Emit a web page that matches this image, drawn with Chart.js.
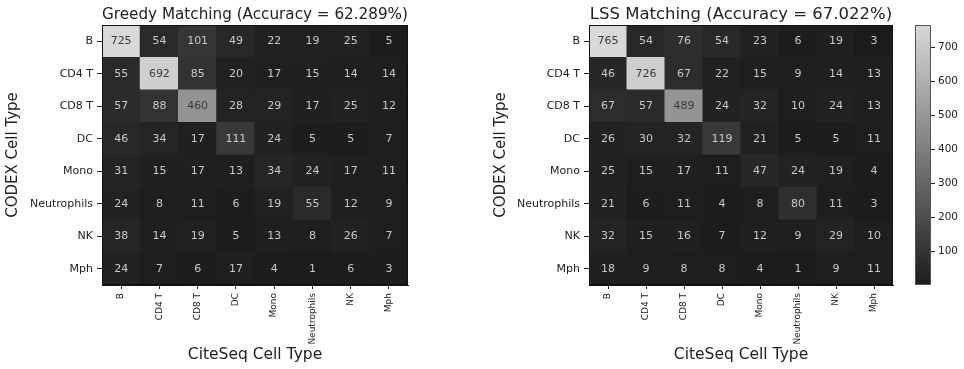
<!DOCTYPE html>
<html>
<head>
<meta charset="utf-8">
<script src="https://cdn.jsdelivr.net/npm/chart.js@4.4.1/dist/chart.umd.min.js"></script>
<style>
  body { margin: 0; background: #fff; }
  #wrap { position: relative; width: 964px; height: 369px; }
  canvas { position: absolute; top: 0; }
</style>
</head>
<body>
<div id="wrap">
  <canvas id="greedyChart" width="480" height="369" style="left:0px"></canvas>
  <canvas id="lssChart" width="420" height="369" style="left:480px"></canvas>
  <canvas id="colorBar" width="64" height="369" style="left:900px"></canvas>
</div>
<script>
// cell types (rows = CODEX, columns = CiteSeq)
const cellTypes = ['B', 'CD4 T', 'CD8 T', 'DC', 'Mono', 'Neutrophils', 'NK', 'Mph'];

const greedyMatrix = [
  [725, 54, 101, 49, 22, 19, 25, 5],
  [55, 692, 85, 20, 17, 15, 14, 14],
  [57, 88, 460, 28, 29, 17, 25, 12],
  [46, 34, 17, 111, 24, 5, 5, 7],
  [31, 15, 17, 13, 34, 24, 17, 11],
  [24, 8, 11, 6, 19, 55, 12, 9],
  [38, 14, 19, 5, 13, 8, 26, 7],
  [24, 7, 6, 17, 4, 1, 6, 3]
];

const lssMatrix = [
  [765, 54, 76, 54, 23, 6, 19, 3],
  [46, 726, 67, 22, 15, 9, 14, 13],
  [67, 57, 489, 24, 32, 10, 24, 13],
  [26, 30, 32, 119, 21, 5, 5, 11],
  [25, 15, 17, 11, 47, 24, 19, 4],
  [21, 6, 11, 4, 8, 80, 11, 3],
  [32, 15, 16, 7, 12, 9, 29, 10],
  [18, 9, 8, 8, 4, 1, 9, 11]
];

const colorBarTicks = [100, 200, 300, 400, 500, 600, 700];

const FONT = 'DejaVu Sans';
Chart.defaults.font.family = FONT;

// gray colormap, a bit washed out like the picture
const GRAY_LO = 28, GRAY_HI = 216;
function cellColor(v, min, max) {
  const t = (v - min) / (max - min);
  const g = Math.round(GRAY_LO + t * (GRAY_HI - GRAY_LO));
  return 'rgb(' + g + ',' + g + ',' + g + ')';
}

function makeHeatmap(id, title, matrix, padLeft, padRight, yWidth) {
  const flat = matrix.flat();
  const vmin = Math.min(...flat), vmax = Math.max(...flat);
  const thresh = (vmin + vmax) / 2;
  const n = cellTypes.length;

  // stacked unit bars, bottom row first
  const datasets = [];
  for (let r = n - 1; r >= 0; r--) {
    datasets.push({
      label: cellTypes[r],
      data: matrix[r].map(() => 1),
      backgroundColor: matrix[r].map(v => cellColor(v, vmin, vmax)),
      borderWidth: 0,
      inflateAmount: 0.5,
      barPercentage: 1,
      categoryPercentage: 1
    });
  }

  const cellText = {
    id: 'cellText',
    beforeDatasetsDraw(chart) {
      const a = chart.chartArea, c = chart.ctx;
      c.save();
      c.fillStyle = cellColor(vmin, vmin, vmax);
      c.fillRect(a.left, a.top, a.right - a.left, a.bottom - a.top);
      c.restore();
    },
    afterDatasetsDraw(chart) {
      const c = chart.ctx;
      c.save();
      c.font = '11px "' + FONT + '"';
      c.textAlign = 'center';
      c.textBaseline = 'middle';
      chart.data.datasets.forEach((ds, d) => {
        const row = n - 1 - d;
        chart.getDatasetMeta(d).data.forEach((bar, col) => {
          const v = matrix[row][col];
          const p = bar.getCenterPoint();
          c.fillStyle = v > thresh ? '#3a3a3a' : '#c8c8c8';
          c.fillText(String(v), p.x, p.y);
        });
      });
      const a = chart.chartArea;
      c.strokeStyle = '#111';
      c.lineWidth = 1;
      c.strokeRect(Math.round(a.left) + 0.5, Math.round(a.top) + 0.5,
        Math.round(a.right - a.left) - 1, Math.round(a.bottom - a.top) - 1);
      c.restore();
    }
  };

  return new Chart(document.getElementById(id), {
    type: 'bar',
    data: { labels: cellTypes, datasets: datasets },
    plugins: [cellText],
    options: {
      responsive: false,
      animation: false,
      layout: { padding: { left: padLeft, right: padRight, top: 0, bottom: 0 } },
      plugins: {
        legend: { display: false },
        tooltip: { enabled: false },
        title: {
          display: true, text: title, fullSize: false, color: '#222',
          font: { size: 16.5, weight: 'normal' },
          padding: { top: 4.5, bottom: 0.7 }
        }
      },
      scales: {
        x: {
          type: 'category', offset: true, stacked: true,
          grid: { offset: false, drawOnChartArea: false, tickLength: 4, color: '#222' },
          border: { display: true, color: '#111' },
          ticks: { minRotation: 90, maxRotation: 90, autoSkip: false, padding: 4, color: '#222', font: { size: 9 } },
          title: { display: true, text: 'CiteSeq Cell Type', color: '#222', font: { size: 15.5 }, padding: { top: 0, bottom: 5 } },
          afterFit(s) { s.height = 84; }
        },
        y: { type: 'linear', stacked: true, min: 0, max: n, display: false },
        yl: {
          type: 'category', position: 'left', labels: cellTypes, offset: true,
          grid: { offset: false, drawOnChartArea: false, tickLength: 5, color: '#222' },
          border: { display: true, color: '#111' },
          ticks: { autoSkip: false, padding: 4, color: '#222', font: { size: 11 } },
          title: { display: true, text: 'CODEX Cell Type', color: '#222', font: { size: 15 }, padding: { top: 4, bottom: 4 } },
          afterFit(s) { s.width = yWidth; }
        }
      }
    }
  });
}

makeHeatmap('greedyChart', 'Greedy Matching (Accuracy = 62.289%)', greedyMatrix, 0, 72, 102);
makeHeatmap('lssChart', 'LSS Matching (Accuracy = 67.022%)', lssMatrix, 8, 7, 101);

// colorbar for the LSS matrix
const lssFlat = lssMatrix.flat();
const cbMin = Math.min(...lssFlat), cbMax = Math.max(...lssFlat);

const barFrame = {
  id: 'barFrame',
  afterDatasetsDraw(chart) {
    const a = chart.chartArea, c = chart.ctx;
    c.save();
    c.strokeStyle = '#555';
    c.lineWidth = 1;
    c.strokeRect(Math.round(a.left) + 0.5, Math.round(a.top) + 0.5,
      Math.round(a.right - a.left) - 1, Math.round(a.bottom - a.top) - 1);
    c.restore();
  }
};

new Chart(document.getElementById('colorBar'), {
  type: 'bar',
  data: {
    labels: [''],
    datasets: [{
      data: [[cbMin, cbMax]],
      backgroundColor(context) {
        const a = context.chart.chartArea;
        if (!a) return '#888';
        const g = context.chart.ctx.createLinearGradient(0, a.bottom, 0, a.top);
        g.addColorStop(0, cellColor(cbMin, cbMin, cbMax));
        g.addColorStop(1, cellColor(cbMax, cbMin, cbMax));
        return g;
      },
      borderWidth: 0,
      barPercentage: 1,
      categoryPercentage: 1
    }]
  },
  plugins: [barFrame],
  options: {
    responsive: false,
    animation: false,
    layout: { padding: { left: 15, right: 0, top: 25, bottom: 84 } },
    plugins: { legend: { display: false }, tooltip: { enabled: false } },
    scales: {
      x: { display: false },
      y: {
        position: 'right', min: cbMin, max: cbMax,
        grid: { drawOnChartArea: false, tickLength: 4, color: '#222' },
        border: { display: false },
        ticks: { padding: 3, color: '#222', font: { size: 10.5 } },
        afterBuildTicks(s) { s.ticks = colorBarTicks.map(v => ({ value: v })); },
        afterFit(s) { s.width = 33; }
      }
    }
  }
});
</script>
</body>
</html>
